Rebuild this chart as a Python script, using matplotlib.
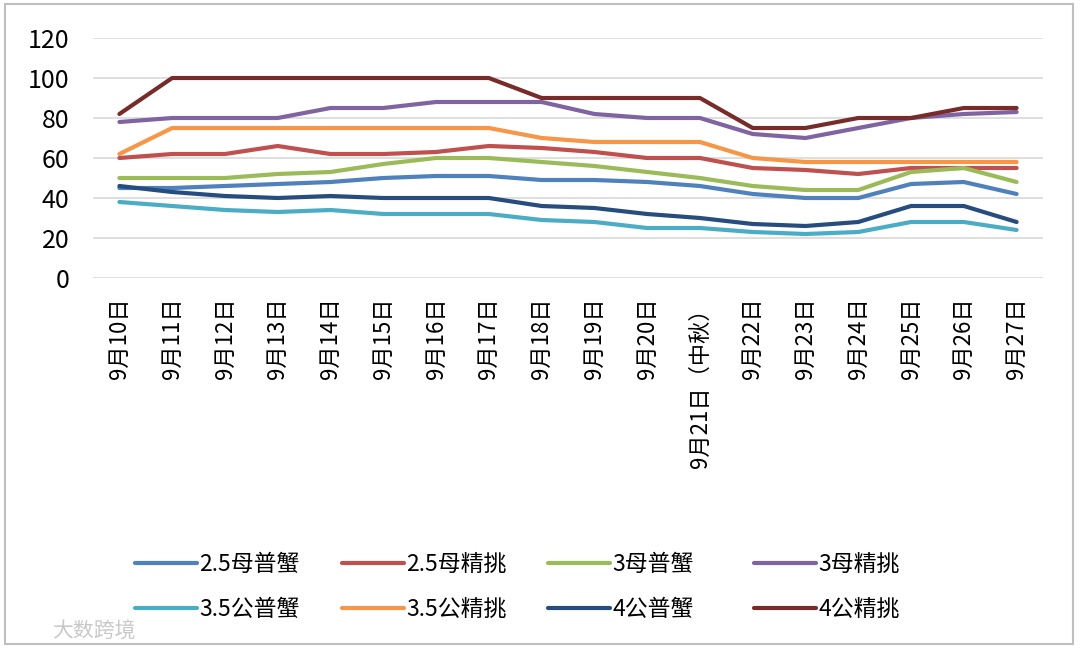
import matplotlib
matplotlib.use("Agg")
import matplotlib.pyplot as plt
from matplotlib.lines import Line2D
from matplotlib.patches import Rectangle

plt.rcParams['font.family'] = ['Noto Sans CJK SC', 'DejaVu Sans']

dates = ["9月10日", "9月11日", "9月12日", "9月13日", "9月14日", "9月15日", "9月16日",
         "9月17日", "9月18日", "9月19日", "9月20日", "9月21日（中秋）", "9月22日",
         "9月23日", "9月24日", "9月25日", "9月26日", "9月27日"]

names = ["2.5母普蟹", "2.5母精挑", "3母普蟹", "3母精挑",
         "3.5公普蟹", "3.5公精挑", "4公普蟹", "4公精挑"]

m25_pu = [45, 45, 46, 47, 48, 50, 51, 51, 49, 49, 48, 46, 42, 40, 40, 47, 48, 42]
m25_jing = [60, 62, 62, 66, 62, 62, 63, 66, 65, 63, 60, 60, 55, 54, 52, 55, 55, 55]
m3_pu = [50, 50, 50, 52, 53, 57, 60, 60, 58, 56, 53, 50, 46, 44, 44, 53, 55, 48]
m3_jing = [78, 80, 80, 80, 85, 85, 88, 88, 88, 82, 80, 80, 72, 70, 75, 80, 82, 83]
g35_pu = [38, 36, 34, 33, 34, 32, 32, 32, 29, 28, 25, 25, 23, 22, 23, 28, 28, 24]
g35_jing = [62, 75, 75, 75, 75, 75, 75, 75, 70, 68, 68, 68, 60, 58, 58, 58, 58, 58]
g4_pu = [46, 43, 41, 40, 41, 40, 40, 40, 36, 35, 32, 30, 27, 26, 28, 36, 36, 28]
g4_jing = [82, 100, 100, 100, 100, 100, 100, 100, 90, 90, 90, 90, 75, 75, 80, 80, 85, 85]

series = [m25_pu, m25_jing, m3_pu, m3_jing, g35_pu, g35_jing, g4_pu, g4_jing]
colors = ["#4F81BD", "#C0504D", "#9BBB59", "#8064A2",
          "#4BACC6", "#F79646", "#264D7E", "#772C2A"]

fig = plt.figure(figsize=(10.8, 6.52), dpi=100)
ax = fig.add_axes([93 / 1080, 1 - 278 / 652, 950 / 1080, 240 / 652])

x = list(range(len(dates)))
for vals, c in zip(series, colors):
    ax.plot(x, vals, color=c, lw=3, solid_capstyle='round', solid_joinstyle='round')

ax.set_xlim(-0.5, len(dates) - 0.5)
ax.set_ylim(0, 120)
ax.set_yticks(range(0, 121, 20))
ax.yaxis.grid(True, color="#D9D9D9", lw=1.2)
ax.set_axisbelow(True)
for s in ax.spines.values():
    s.set_visible(False)
ax.tick_params(axis='y', length=0, pad=17, labelsize=18)
ax.set_xticks(x)
ax.set_xticklabels(dates, rotation=90, fontsize=16, va='top')
ax.tick_params(axis='x', length=0, pad=14)

# legend: 4 columns x 2 rows, placed column by column
col_x = [135, 342, 548, 754]
for c in range(4):
    hs = []
    for k in (c, c + 4):
        hs.append(Line2D([], [], color=colors[k], lw=3, solid_capstyle='round', label=names[k]))
    fig.legend(handles=hs, loc='upper left', bbox_to_anchor=(col_x[c] / 1080, 1 - 553 / 652),
               frameon=False, fontsize=16.5, handlelength=2.7, handletextpad=0.1,
               labelspacing=0.95, borderaxespad=0, borderpad=0)

fig.text(52 / 1080, 1 - 632 / 652, "大数跨境", fontsize=15, color="#C8C8C8", va='center')
fig.patches.append(Rectangle((5 / 1080, 8 / 652), 1068 / 1080, 640 / 652, transform=fig.transFigure,
                             fill=False, edgecolor="#BFBFBF", lw=1.5))

fig.savefig("out.png", dpi=100)
